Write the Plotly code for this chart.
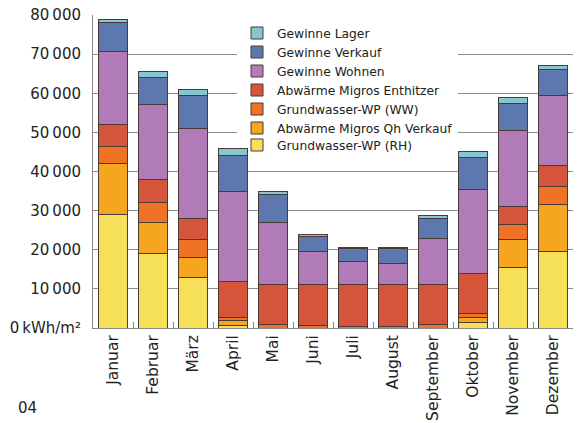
import plotly.graph_objects as go

months = ["Januar", "Februar", "März", "April", "Mai", "Juni", "Juli",
          "August", "September", "Oktober", "November", "Dezember"]

# segment values (kWh/m²), bottom to top
gw_rh = [29000, 19000, 13000, 700, 0, 0, 0, 0, 0, 1500, 15500, 19500]
qh_verkauf = [13000, 8000, 5000, 1300, 0, 0, 0, 0, 0, 1100, 7000, 12000]
gw_ww = [4500, 5000, 4500, 700, 900, 700, 300, 300, 900, 1100, 4000, 4700]
enthitzer = [5500, 6000, 5500, 9300, 10100, 10300, 10700, 10700, 10100, 10300, 4500, 5300]
wohnen = [18700, 19000, 23000, 23000, 16000, 8500, 6000, 5500, 12000, 21500, 19500, 18000]
verkauf = [7300, 7000, 8500, 9000, 7000, 4000, 3300, 3800, 5000, 8000, 7000, 6500]
lager = [800, 1500, 1500, 2000, 1000, 500, 300, 300, 700, 1500, 1500, 1000]

series = [
    ("Grundwasser-WP (RH)", gw_rh, "#f6e05a", "legend2"),
    ("Abwärme Migros Qh Verkauf", qh_verkauf, "#f6a51e", "legend"),
    ("Grundwasser-WP (WW)", gw_ww, "#f07225", "legend"),
    ("Abwärme Migros Enthitzer", enthitzer, "#d5553b", "legend"),
    ("Gewinne Wohnen", wohnen, "#b07bb6", "legend"),
    ("Gewinne Verkauf", verkauf, "#5d78ae", "legend"),
    ("Gewinne Lager", lager, "#86c6cf", "legend"),
]

y_ticks = [0, 10000, 20000, 30000, 40000, 50000, 60000, 70000, 80000]
y_ticktext = ["0\u2009kWh/m²", "10\u2009000", "20\u2009000", "30\u2009000", "40\u2009000",
              "50\u2009000", "60\u2009000", "70\u2009000", "80\u2009000"]

FONT = "DejaVu Sans"
LEG_FONT = dict(family=FONT, size=12.3, color="#222222")

fig = go.Figure()
for name, vals, col, leg in series:
    fig.add_trace(go.Bar(
        x=months, y=vals, name=name, legend=leg,
        marker=dict(color=col, line=dict(color="#4a3a36", width=1)),
    ))

fig.update_layout(
    barmode="stack",
    bargap=0.28,
    width=581, height=423,
    margin=dict(l=93, r=8, t=15, b=95),
    paper_bgcolor="white", plot_bgcolor="white",
    font=dict(family=FONT, color="#222222"),
    legend=dict(
        x=0.3, y=0.9888, xanchor="left", yanchor="top",
        traceorder="reversed",
        bgcolor="white", borderwidth=0,
        font=LEG_FONT, itemwidth=30, tracegroupgap=0,
    ),
    legend2=dict(
        x=0.3, y=0.631, xanchor="left", yanchor="top",
        bgcolor="rgba(0,0,0,0)", borderwidth=0,
        font=LEG_FONT, itemwidth=30, tracegroupgap=0,
    ),
    xaxis=dict(
        tickangle=-90,
        tickfont=dict(family=FONT, size=15.5, color="#222222"),
        showline=True, linecolor="#888888", linewidth=1,
        ticks="inside", tickson="boundaries", ticklen=6, tickcolor="#888888",
        showgrid=False, automargin=False,
    ),
    yaxis=dict(
        range=[0, 80000],
        tickvals=y_ticks, ticktext=y_ticktext,
        tickfont=dict(family=FONT, size=15, color="#222222"),
        showgrid=True, gridcolor="#8c8c8c", gridwidth=1,
        showline=True, linecolor="#888888", linewidth=1,
        zeroline=False, ticks="", ticklabelstandoff=8, automargin=False,
    ),
    annotations=[dict(
        text="04", xref="paper", yref="paper", x=-0.16, y=-0.256,
        xanchor="left", yanchor="middle", showarrow=False,
        font=dict(family=FONT, size=15, color="#222222"),
    )],
)

fig.write_html("out.html", config={"displayModeBar": False},
               post_script="document.body.style.margin='0px';")
